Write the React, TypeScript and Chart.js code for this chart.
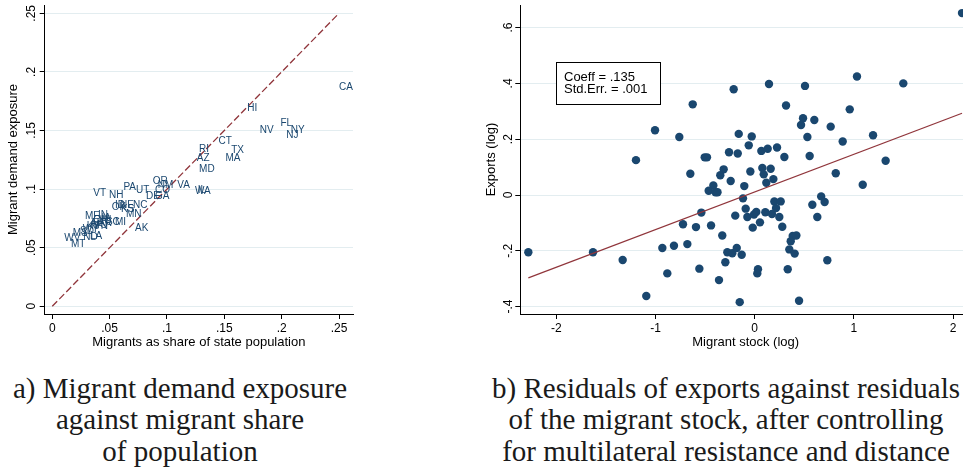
import React, { useEffect, useRef } from "react";
import { Chart, registerables } from "chart.js";

Chart.register(...registerables);

// ---------- Panel a: state labels ----------
const stateCodes = [
  "CA", "HI", "FL", "NY", "NJ", "NV", "CT", "RI", "TX", "AZ",
  "MA", "MD", "OR", "NM", "VA", "CO", "GA", "DE", "WA", "IL",
  "PA", "UT", "VT", "NH", "NE", "NC", "OK", "ID", "KS", "MN",
  "MI", "SC", "AK", "ME", "IN", "TN", "WI", "IA", "AR", "OH",
  "AL", "MO", "KY", "SD", "WY", "MS", "WV", "ND", "LA", "MT",
];
const migrantShare = [
  0.250, 0.170, 0.199, 0.208, 0.204, 0.181, 0.145, 0.128, 0.156, 0.126,
  0.151, 0.128, 0.0875, 0.092, 0.109, 0.0895, 0.0895, 0.0817, 0.1244, 0.1268,
  0.062, 0.073, 0.0358, 0.0494, 0.059, 0.0704, 0.0518, 0.0547, 0.060, 0.0643,
  0.0547, 0.0468, 0.0721, 0.0285, 0.0399, 0.037, 0.041, 0.043, 0.040, 0.0358,
  0.0329, 0.0343, 0.030, 0.0242, 0.0265, 0.0178, 0.0105, 0.027, 0.0329, 0.0163,
];
const demandExposure = [
  0.187, 0.169, 0.156, 0.150, 0.146, 0.150, 0.141, 0.134, 0.133, 0.126,
  0.126, 0.117, 0.107, 0.1035, 0.1035, 0.0992, 0.094, 0.0935, 0.0978, 0.0986,
  0.1015, 0.0987, 0.0964, 0.0944, 0.0864, 0.0864, 0.0847, 0.086, 0.0826, 0.0788,
  0.0717, 0.0717, 0.0666, 0.0765, 0.0779, 0.068, 0.0736, 0.075, 0.0708, 0.073,
  0.0708, 0.069, 0.068, 0.0643, 0.066, 0.0623, 0.058, 0.0589, 0.0595, 0.0532,
];
const diagX = [0, 0.25];
const diagY = [0, 0.25];
const leftXTicksStep = 0.05;
const leftYTicksStep = 0.05;

// ---------- Panel b: residual scatter ----------
const migrantStock = [
  -1.197, -1.005, -0.760, -0.625, -0.649, -0.504, -0.481, -0.212, -0.161, -0.030,
  -0.060, -0.259, -0.171, -0.313, -0.347, -0.242, -0.044, -0.105, -0.417, -0.464,
  -0.395, -0.375, 0.144, 0.067, 0.131, 0.225, 0.299, 0.316, 0.077, 0.161,
  0.091, 0.188, 0.117, 0.507, 0.487, 0.467, 0.601, 0.531, 0.554, 0.766,
  0.887, 0.958, 1.031, 1.498, 1.193, 1.320, 0.817, 1.089, 0.670, -2.282,
  -1.630, -1.331, -1.093, -0.931, -0.881, -0.814, -0.723, -0.679, -0.592, -0.558,
  -0.538, -0.440, -0.360, -0.327, -0.296, -0.276, -0.226, -0.196, -0.181, -0.151,
  -0.131, -0.118, -0.091, -0.074, -0.020, -0.007, 0.016, 0.053, 0.033, 0.026,
  0.107, 0.174, 0.198, 0.262, 0.215, 0.248, 0.278, 0.333, 0.349, 0.363,
  0.383, 0.420, 0.403, 0.447, 0.581, 0.631, 0.705, 0.732, 2.090,
];
const exportsResid = [
  0.125, 0.232, 0.208, 0.325, 0.076, 0.135, 0.135, 0.379, 0.219, 0.210,
  0.178, 0.153, 0.149, 0.092, 0.071, 0.050, 0.084, 0.032, 0.034, 0.015,
  0.010, 0.010, 0.398, 0.158, 0.166, 0.170, 0.136, 0.321, 0.097, 0.094,
  0.074, 0.057, 0.044, 0.391, 0.275, 0.251, 0.269, 0.208, 0.140, 0.245,
  0.192, 0.307, 0.425, 0.400, 0.214, 0.123, 0.078, 0.037, -0.005, -0.205,
  -0.205, -0.233, -0.362, -0.190, -0.281, -0.182, -0.105, -0.176, -0.115, -0.264,
  -0.063, -0.109, -0.305, -0.145, -0.241, -0.205, -0.209, -0.074, -0.190, -0.384,
  -0.214, -0.012, -0.049, -0.079, -0.117, -0.070, -0.061, -0.098, -0.266, -0.281,
  -0.062, -0.068, -0.023, -0.023, -0.047, -0.079, -0.114, -0.266, -0.195, -0.166,
  -0.147, -0.145, -0.210, -0.379, -0.035, -0.079, -0.025, -0.234, 0.652,
];
const fitLineX = [-2.282, 2.09];
const fitLineY = [-0.297, 0.293];
const statsLines = ["Coeff = .135", "Std.Err. = .001"];
const statsAnchorX = -2.0;
const statsAnchorY = 0.4;

const FONT = '"Liberation Sans", Arial, Helvetica, sans-serif';
const NAVY = "#1a476f";
const MAROON = "#90353b";
const GRID = "#e3edf0";

const fmtTick = (v: number | string) => {
  const n = Math.round(Number(v) * 1000) / 1000;
  if (n === 0) return "0";
  return String(n).replace(/^(-?)0\./, "$1.");
};

const xAxis = (min: number, max: number, step: number, title: string) => ({
  type: "linear" as const,
  min,
  max,
  ticks: {
    stepSize: step,
    includeBounds: false,
    callback: fmtTick,
    color: "#000",
    font: { family: FONT, size: 12 },
    padding: 2,
    maxRotation: 0,
    minRotation: 0,
  },
  grid: { drawOnChartArea: false, drawTicks: true, tickLength: 5, tickColor: "#000", tickWidth: 1 },
  border: { display: true, color: "#000", width: 1 },
  title: {
    display: true,
    text: title,
    color: "#000",
    font: { family: FONT, size: 13 },
    padding: { top: 0, bottom: 4.4 },
  },
  afterFit: (s: any) => {
    s.height = 41;
    s.paddingLeft = 0;
    s.paddingRight = 0;
  },
});

const yAxis = (min: number, max: number, step: number, title: string, width: number, titlePad: number) => ({
  type: "linear" as const,
  min,
  max,
  ticks: {
    stepSize: step,
    includeBounds: false,
    callback: fmtTick,
    color: "#000",
    font: { family: FONT, size: 12 },
    padding: 0,
    minRotation: 90,
    maxRotation: 90,
    crossAlign: "center" as const,
  },
  grid: { drawOnChartArea: true, color: GRID, lineWidth: 1, drawTicks: true, tickLength: 5, tickColor: "#000", tickWidth: 1 },
  border: { display: true, color: "#000", width: 1 },
  title: {
    display: true,
    text: title,
    color: "#000",
    font: { family: FONT, size: 13 },
    padding: { top: titlePad, bottom: 0 },
  },
  afterFit: (s: any) => {
    s.width = width;
    s.paddingTop = 0;
    s.paddingBottom = 0;
  },
});

const stateLabelPlugin = {
  id: "stateLabels",
  afterDatasetsDraw(chart: any) {
    const meta = chart.getDatasetMeta(1);
    const ctx = chart.ctx;
    ctx.save();
    ctx.font = `10px ${FONT}`;
    ctx.fillStyle = NAVY;
    ctx.textAlign = "left";
    ctx.textBaseline = "middle";
    meta.data.forEach((pt: any, i: number) => {
      ctx.fillText(stateCodes[i], pt.x, pt.y);
    });
    ctx.restore();
  },
};

const statsBoxPlugin = {
  id: "statsBox",
  afterDatasetsDraw(chart: any) {
    const { x, y } = chart.scales;
    const ctx = chart.ctx;
    const left = Math.round(x.getPixelForValue(statsAnchorX)) + 0.5;
    const cy = y.getPixelForValue(statsAnchorY);
    const w = 104;
    const h = 42;
    const top = Math.round(cy - h / 2) + 0.5;
    ctx.save();
    ctx.fillStyle = "#fff";
    ctx.fillRect(left, top, w, h);
    ctx.strokeStyle = "#000";
    ctx.lineWidth = 1;
    ctx.strokeRect(left, top, w, h);
    ctx.font = `13px ${FONT}`;
    ctx.fillStyle = "#000";
    ctx.textAlign = "left";
    ctx.textBaseline = "middle";
    ctx.fillText(statsLines[0], left + 7.5, cy - 6.15);
    ctx.fillText(statsLines[1], left + 7.5, cy + 6.15);
    ctx.restore();
  },
};

export default function App() {
  const leftRef = useRef<HTMLCanvasElement>(null);
  const rightRef = useRef<HTMLCanvasElement>(null);

  useEffect(() => {
    const charts: Chart[] = [];
    if (leftRef.current) {
      charts.push(
        new Chart(leftRef.current, {
          type: "scatter",
          data: {
            datasets: [
              {
                data: diagX.map((x, i) => ({ x, y: diagY[i] })),
                showLine: true,
                borderColor: MAROON,
                borderWidth: 1.3,
                borderDash: [7, 3],
                pointRadius: 0,
                fill: false,
              },
              {
                data: migrantShare.map((x, i) => ({ x, y: demandExposure[i] })),
                pointRadius: 0,
                pointHoverRadius: 0,
              },
            ],
          },
          options: {
            animation: false,
            responsive: false,
            events: [],
            layout: { autoPadding: false, padding: { top: 5, right: 7, left: 0, bottom: 0 } },
            plugins: { legend: { display: false }, tooltip: { enabled: false } },
            scales: {
              x: xAxis(-0.0066, 0.2622, leftXTicksStep, "Migrants as share of state population"),
              y: yAxis(-0.0066, 0.2571, leftYTicksStep, "Migrant demand exposure", 44.7, 6),
            },
          } as any,
          plugins: [stateLabelPlugin],
        })
      );
    }
    if (rightRef.current) {
      charts.push(
        new Chart(rightRef.current, {
          type: "scatter",
          data: {
            datasets: [
              {
                data: fitLineX.map((x, i) => ({ x, y: fitLineY[i] })),
                showLine: true,
                borderColor: MAROON,
                borderWidth: 1.2,
                pointRadius: 0,
                fill: false,
              },
              {
                data: migrantStock.map((x, i) => ({ x, y: exportsResid[i] })),
                pointRadius: 4.2,
                pointHoverRadius: 4.2,
                pointBorderWidth: 0,
                backgroundColor: NAVY,
                borderColor: NAVY,
              },
            ],
          },
          options: {
            animation: false,
            responsive: false,
            events: [],
            layout: { autoPadding: false, padding: { top: 5, right: 0, left: 0, bottom: 0 } },
            plugins: { legend: { display: false }, tooltip: { enabled: false } },
            scales: {
              x: xAxis(-2.363, 2.1804, 1, "Migrant stock (log)"),
              y: yAxis(-0.4265, 0.681, 0.2, "Exports (log)", 40.3, 3.4),
            },
          } as any,
          plugins: [statsBoxPlugin],
        })
      );
    }
    return () => charts.forEach((c) => c.destroy());
  }, []);

  const captionStyle: React.CSSProperties = {
    position: "absolute",
    top: 372.8,
    textAlign: "center",
    fontFamily: '"Liberation Serif", "Times New Roman", serif',
    fontSize: 29,
    lineHeight: "31.5px",
    color: "#1a1a1a",
    whiteSpace: "nowrap",
  };

  return (
    <div
      style={{
        position: "fixed",
        left: 0,
        top: 0,
        width: 963,
        height: 470,
        overflow: "hidden",
        background: "#fff",
      }}
    >
      <div style={{ position: "absolute", left: 0, top: 0, width: 360, height: 355 }}>
        <canvas ref={leftRef} width={360} height={355} style={{ width: 360, height: 355 }} />
      </div>
      <div style={{ position: "absolute", left: 480, top: 0, width: 491, height: 355 }}>
        <canvas ref={rightRef} width={491} height={355} style={{ width: 491, height: 355 }} />
      </div>
      <div style={{ ...captionStyle, left: 0, width: 360 }}>
        a) Migrant demand exposure
        <br />
        against migrant share
        <br />
        of population
      </div>
      <div style={{ ...captionStyle, left: 426, width: 600 }}>
        b) Residuals of exports against residuals
        <br />
        of the migrant stock, after controlling
        <br />
        for multilateral resistance and distance
      </div>
    </div>
  );
}
